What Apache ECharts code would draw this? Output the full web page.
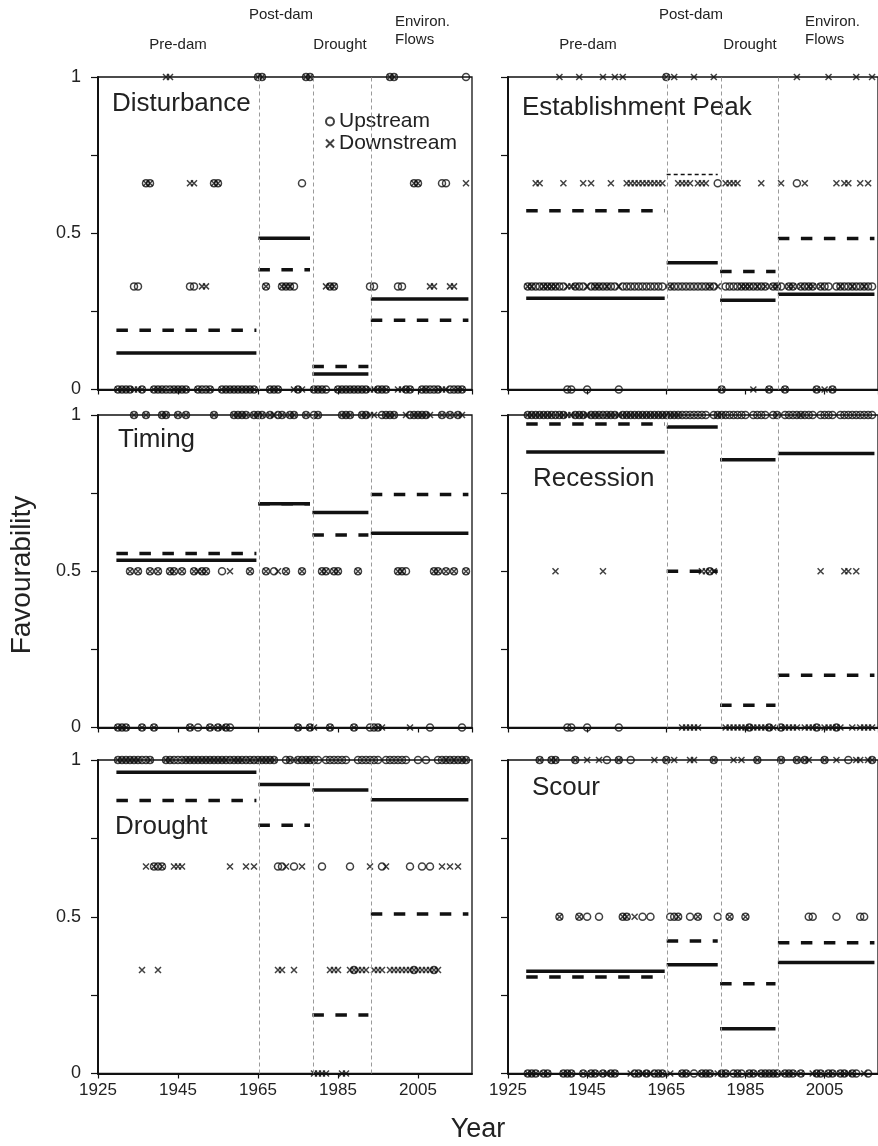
<!DOCTYPE html>
<html><head><meta charset="utf-8">
<script src="https://cdn.jsdelivr.net/npm/echarts@6/dist/echarts.min.js"></script>
<style>html,body{margin:0;padding:0;background:#fff}#c{width:878px;height:1146px}</style>
</head><body><div id="c"></div>
<script>
// ---------------- DATA ----------------
const firstYear = 1930, lastYear = 2017;
const years = [];
for (let y = firstYear; y <= lastYear; y++) years.push(y);

const xTickLabels = ['1925', '1945', '1965', '1985', '2005'];
const yTickLabels = ['0', '0.5', '1'];
const periodNames = ['Pre-dam', 'Post-dam', 'Drought', 'Environ.\nFlows'];
const periodSpans = [[1929.6, 1964.6], [1965.1, 1978.0], [1978.6, 1992.6], [1993.2, 2017.6]];
const dividerYears = [1965.3, 1978.8, 1993.25];

// Disturbance
const distUp = [0,0,0,0,.33,.33,0,.66,.66,0, 0,0,0,0,0,0,0,0,.33,.33, 0,0,0,0,.66,.66,0,0,0,0,
  0,0,0,0,0,1,1,.33,0,0, 0,.33,.33,.33,.33,0,.66,1,1,0, 0,0,0,.33,.33,0,0,0,0,0,
  0,0,0,.33,.33,0,0,0,1,1, .33,.33,0,0,.66,.66,0,0,0,0, 0,.66,.66,0,0,0,0,1];
const distDown = [0,0,0,0,0,0,0,.66,.66,0, 0,0,1,1,0,0,0,0,.66,.66, 0,.33,.33,0,.66,.66,0,0,0,0,
  0,0,0,0,0,1,1,.33,0,0, 0,.33,.33,.33,0,0,0,1,1,0, 0,0,.33,.33,.33,0,0,0,0,0,
  0,0,0,0,0,0,0,0,1,1, 0,0,0,0,.66,.66,0,0,.33,.33, 0,0,0,.33,.33,0,0,.66];
const distMeanUp = [0.117, 0.484, 0.05, 0.29];
const distMeanDown = [0.19, 0.383, 0.074, 0.222];

// Timing
const timUp = [0,0,0,.5,1,.5,0,1,.5,0, .5,1,1,.5,.5,1,.5,1,0,.5, 0,.5,.5,0,1,0,.5,0,0,1,
  1,1,1,.5,1,1,1,.5,1,.5, 1,1,.5,1,1,0,.5,1,0,1, 1,.5,.5,0,.5,.5,1,1,1,0,
  .5,1,1,0,0,0,1,1,1,1, .5,.5,.5,1,1,1,1,1,0,.5, .5,1,.5,1,.5,1,0,.5];
const timDown = [0,0,0,.5,1,.5,0,1,.5,0, .5,1,1,.5,.5,1,.5,1,0,.5, .5,.5,.5,0,1,0,0,0,.5,1,
  1,1,1,.5,1,1,1,.5,1,1, .5,1,.5,1,1,0,.5,1,0,0, 1,.5,.5,0,.5,.5,1,1,1,0,
  .5,1,1,1,1,0,0,1,1,1, .5,.5,1,0,1,1,1,1,1,.5, .5,1,.5,1,.5,1,1,.5];
const timMeanUp = [0.535, 0.716, 0.688, 0.622];
const timMeanDown = [0.557, 0.716, 0.616, 0.746];

// Drought
const droUp = [1,1,1,1,1,1,1,1,1,.66, .66,.66,1,1,1,1,1,1,1,1, 1,1,1,1,1,1,1,1,1,1,
  1,1,1,1,1,1,1,1,1,1, .66,.66,1,1,.66,1,1,1,1,1, 1,.66,1,1,1,1,1,1,.66,.33,
  1,1,1,1,1,1,.66,1,1,1, 1,1,1,.66,.33,1,.66,1,.66,.33, 1,1,1,1,1,1,1,1];
const droDown = [1,1,1,1,1,1,.33,.66,1,.66, .33,.66,1,1,.66,.66,.66,1,1,1, 1,1,1,1,1,1,1,1,.66,1,
  1,1,.66,1,.66,1,1,1,1,1, .33,.33,.66,1,.33,1,.66,1,1,0, 0,0,0,.33,.33,.33,0,0,.33,.33,
  .33,.33,.33,.66,.33,.33,.33,.66,.33,.33, .33,.33,.33,.33,.33,.33,.33,.33,.33,.33, .33,.66,1,.66,1,.66,1,1];
const droMeanUp = [0.961, 0.922, 0.904, 0.873];
const droMeanDown = [0.871, 0.792, 0.187, 0.509];

// Establishment Peak
const estUp = [.33,.33,.33,.33,.33,.33,.33,.33,.33,.33, 0,0,.33,.33,.33,0,.33,.33,.33,.33, .33,.33,.33,0,.33,.33,.33,.33,.33,.33,
  .33,.33,.33,.33,.33,1,.33,.33,.33,.33, .33,.33,.33,.33,.33,.33,.33,.33,.66,0, .33,.33,.33,.33,.33,.33,.33,.33,.33,.33,
  .33,0,.33,.33,.33,0,.33,.33,.66,.33, .33,.33,.33,0,.33,.33,.33,0,.33,.33, .33,.33,.33,.33,.33,.33,.33,.33];
const estDown = [.33,.33,.66,.66,.33,.33,.33,.33,1,.66, .33,.33,.33,1,.66,.33,.66,.33,.33,1, .33,.66,1,.33,1,.66,.66,.66,.66,.66,
  .66,.66,.66,.66,.66,1,.33,1,.66,.66, .66,.66,1,.66,.66,.66,.33,1,.33,0, .66,.66,.66,.66,.33,.33,.33,0,.33,.66,
  .33,0,.33,.33,.66,0,.33,.33,1,.33, .66,.33,.33,0,.33,0,1,0,.66,.33, .66,.66,.33,1,.66,.33,.66,1];
const estMeanUp = [0.292, 0.406, 0.286, 0.305];
const estMeanDown = [0.572, 0.688, 0.378, 0.483];

// Recession
const recUp = [1,1,1,1,1,1,1,1,1,1, 0,0,1,1,1,0,1,1,1,1, 1,1,1,0,1,1,1,1,1,1,
  1,1,1,1,1,1,1,1,1,1, 1,1,1,1,1,1,.5,1,1,1, 1,1,1,1,1,1,0,1,1,1,
  1,0,1,1,0,1,1,1,1,1, 1,1,1,0,1,1,1,1,0,1, 1,1,1,1,1,1,1,1];
const recDown = [1,1,1,1,1,1,1,.5,1,1, 1,1,1,1,1,1,1,1,1,.5, 1,1,1,1,1,1,1,1,1,1,
  1,1,1,1,1,1,1,1,1,0, 0,0,0,0,.5,.5,.5,.5,1,1, 0,0,0,0,0,0,0,0,0,0,
  0,0,0,1,0,0,0,0,0,1, 0,0,0,0,.5,0,0,0,0,0, .5,.5,0,.5,0,0,0,0];
const recMeanUp = [0.882, 0.962, 0.857, 0.877];
const recMeanDown = [0.971, 0.5, 0.071, 0.167];

// Scour
const scoUp = [0,0,0,1,0,0,1,1,.5,0, 0,0,1,.5,0,.5,0,0,.5,0, 1,0,0,1,.5,.5,1,0,0,.5,
  0,.5,0,0,0,1,.5,.5,.5,0, 0,.5,0,.5,0,0,0,1,.5,0, 0,.5,0,0,0,.5,0,0,1,0,
  0,0,0,0,1,0,0,0,1,0, 1,.5,.5,0,0,1,0,0,.5,0, 0,1,0,0,.5,.5,0,1];
const scoDown = [0,0,0,1,0,0,1,1,.5,0, 0,0,1,.5,0,1,0,0,1,0, 0,0,0,1,.5,.5,0,.5,0,0,
  0,0,1,0,0,1,0,1,.5,0, 0,1,1,.5,0,0,0,1,0,0, 0,.5,1,0,1,.5,0,0,1,0,
  0,0,0,0,1,0,0,0,1,0, 1,1,0,0,0,1,0,0,1,0, 0,0,0,1,1,0,1,1];
const scoMeanUp = [0.326, 0.347, 0.143, 0.354];
const scoMeanDown = [0.308, 0.423, 0.286, 0.417];

// ---------------- LAYOUT / STYLE ----------------
const FONT = '"Liberation Sans", Arial, Helvetica, sans-serif';
const INK = '#111';
const colLeft = [98, 508];
const gridW = 374;
const rowTop = [77, 415, 760];
const rowH = [312.5, 312.5, 313.5];

const panels = [
  {name: 'Disturbance', up: distUp, down: distDown, mu: distMeanUp, md: distMeanDown, col: 0, row: 0, tx: 112, ty: 104},
  {name: 'Establishment Peak', up: estUp, down: estDown, mu: estMeanUp, md: estMeanDown, col: 1, row: 0, tx: 522, ty: 108, thinDash: [1]},
  {name: 'Timing', up: timUp, down: timDown, mu: timMeanUp, md: timMeanDown, col: 0, row: 1, tx: 118, ty: 440},
  {name: 'Recession', up: recUp, down: recDown, mu: recMeanUp, md: recMeanDown, col: 1, row: 1, tx: 533, ty: 479},
  {name: 'Drought', up: droUp, down: droDown, mu: droMeanUp, md: droMeanDown, col: 0, row: 2, tx: 115, ty: 827},
  {name: 'Scour', up: scoUp, down: scoDown, mu: scoMeanUp, md: scoMeanDown, col: 1, row: 2, tx: 532, ty: 788}
];

const grids = [], xAxes = [], yAxes = [], series = [], graphics = [];

panels.forEach((p, k) => {
  grids.push({left: colLeft[p.col], top: rowTop[p.row], width: gridW, height: rowH[p.row],
    show: true, borderColor: '#111', borderWidth: 1.3, backgroundColor: 'transparent'});
  xAxes.push({gridIndex: k, type: 'value', min: 1925, max: 2018.5, interval: 20,
    axisLine: {show: true, onZero: false, lineStyle: {color: '#111', width: 2}},
    axisTick: {show: true, length: 5, lineStyle: {color: '#111', width: 1.2}},
    axisLabel: {show: p.row === 2, showMaxLabel: false, fontSize: 17, color: '#222', fontFamily: FONT, margin: 8,
      formatter: v => (xTickLabels.indexOf(String(v)) >= 0 ? String(v) : '')},
    splitLine: {show: false}});
  yAxes.push({gridIndex: k, type: 'value', min: 0, max: 1, interval: 0.25,
    axisLine: {show: true, onZero: false, lineStyle: {color: '#111', width: 2}},
    axisTick: {show: true, length: 7, lineStyle: {color: '#111', width: 1.2}},
    axisLabel: {show: p.col === 0, fontSize: 18, color: '#222', fontFamily: FONT, margin: 17,
      formatter: v => (yTickLabels.indexOf(String(v)) >= 0 ? String(v) : '')},
    splitLine: {show: false}});

  // period mean lines (solid = upstream, dashed = downstream)
  periodSpans.forEach((span, j) => {
    series.push({type: 'line', xAxisIndex: k, yAxisIndex: k, symbol: 'none', silent: true, z: 2,
      lineStyle: {color: '#111', width: 3.5, type: 'solid', cap: 'butt'},
      data: [[span[0], p.mu[j]], [span[1], p.mu[j]]]});
    const thin = p.thinDash && p.thinDash.indexOf(j) >= 0;
    series.push({type: 'line', xAxisIndex: k, yAxisIndex: k, symbol: 'none', silent: true, z: 2,
      lineStyle: {color: '#111', width: thin ? 1.4 : 3.5, type: thin ? [4, 3] : [11.5, 11.5], cap: 'butt'},
      data: [[span[0], p.md[j]], [span[1], p.md[j]]]});
  });

  series.push({name: 'Upstream', type: 'scatter', xAxisIndex: k, yAxisIndex: k, clip: false, z: 4,
    symbol: 'circle', symbolSize: 7,
    itemStyle: {color: 'rgba(255,255,255,0)', borderColor: INK, borderWidth: 1.5},
    data: years.map((yr, i) => [yr, p.up[i]]),
    markLine: {silent: true, symbol: ['none', 'none'], label: {show: false},
      lineStyle: {color: '#9a9a9a', width: 1, type: [4, 3]},
      data: dividerYears.map(x => ({xAxis: x}))}});
  series.push({name: 'Downstream', type: 'scatter', xAxisIndex: k, yAxisIndex: k, clip: false, z: 4,
    symbol: 'path://M0,0L10,10M10,0L0,10', symbolSize: 6,
    itemStyle: {color: 'rgba(0,0,0,0)', borderColor: INK, borderWidth: 1.5},
    data: years.map((yr, i) => [yr, p.down[i]])});

  graphics.push({type: 'text', x: p.tx, y: p.ty, silent: true,
    style: {text: p.name, font: '26px ' + FONT, fill: '#222', textAlign: 'left', textVerticalAlign: 'middle'}});
});

// period headers
const headerPos = [[178, 45, 'center'], [281, 15, 'center'], [340, 45, 'center'], [395, 31, 'left']];
[0, 410].forEach(off => {
  headerPos.forEach((h, j) => {
    graphics.push({type: 'text', x: h[0] + off, y: h[1], silent: true,
      style: {text: periodNames[j], font: '15px ' + FONT, fill: '#222', textAlign: h[2],
        textVerticalAlign: 'middle', lineHeight: 18}});
  });
});

graphics.push({type: 'text', x: 22, y: 575, rotation: Math.PI / 2, silent: true,
  style: {text: 'Favourability', font: '28px ' + FONT, fill: '#222', textAlign: 'center', textVerticalAlign: 'middle'}});
graphics.push({type: 'text', x: 478, y: 1130, silent: true,
  style: {text: 'Year', font: '27px ' + FONT, fill: '#222', textAlign: 'center', textVerticalAlign: 'middle'}});

const chart = echarts.init(document.getElementById('c'));
chart.setOption({
  animation: false,
  backgroundColor: '#fff',
  grid: grids, xAxis: xAxes, yAxis: yAxes, series: series,
  legend: {data: ['Upstream', 'Downstream'], orient: 'vertical', left: 320, top: 106, itemWidth: 8, itemHeight: 8,
    itemGap: 1, selectedMode: false, textStyle: {fontSize: 21, color: '#222', fontFamily: FONT}},
  graphic: graphics
});
</script>
</body></html>
